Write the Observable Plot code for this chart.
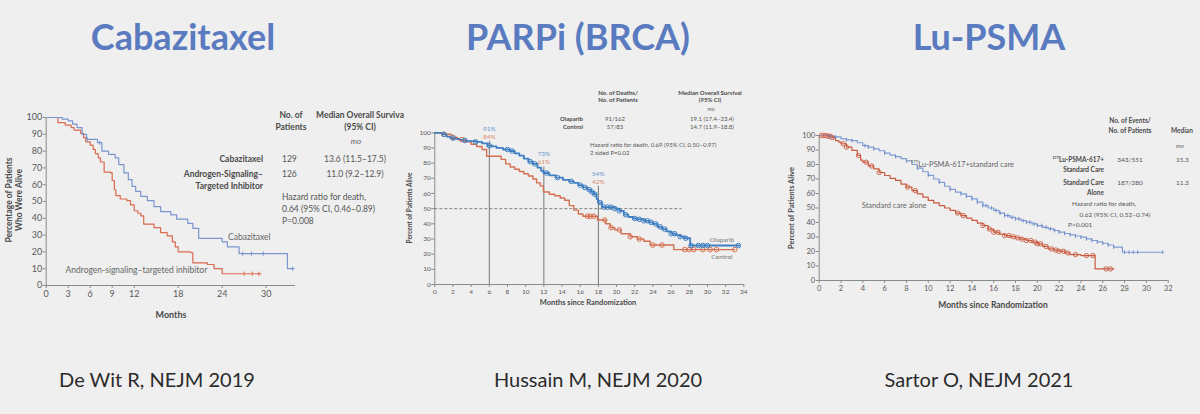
<!DOCTYPE html>
<html><head><meta charset="utf-8">
<script src="https://cdn.jsdelivr.net/npm/d3@7"></script>
<script src="https://cdn.jsdelivr.net/npm/@observablehq/plot@0.6"></script>
<style>
html,body{margin:0;padding:0;background:#efefef;}
#page{position:relative;width:1200px;height:414px;overflow:hidden;background:#efefef;font-family:Lato,sans-serif;}
.panel{position:absolute;}
</style></head><body><div id="page"></div>
<script>
// ================= DATA =================
// Panel 1 — De Wit R, NEJM 2019 (Cabazitaxel vs androgen-signaling-targeted inhibitor)
const p1XTicks = [0, 3, 6, 9, 12, 18, 24, 30];
const p1YTicks = [0, 10, 20, 30, 40, 50, 60, 70, 80, 90, 100];
const cabMonths = [0, 2.2, 3, 3.6, 4.2, 4.9, 5.5, 7, 7.6, 8.5, 9.4, 9.9, 10.6, 11.2, 11.7, 12.2, 12.9, 13.8, 14.7, 15.6, 17, 17.8, 19.3, 20, 20.8, 24, 24.7, 26.3, 32.9, 33.8];
const cabPct    = [100, 99, 98, 96, 94, 90, 87, 85, 80, 78, 76, 72, 67, 63, 59, 56, 53, 50.5, 47, 44, 42, 39.5, 37, 34, 28, 26, 23, 19, 10, 10];
const asiMonths = [0, 1.6, 2.6, 3.4, 3.8, 4.7, 5.1, 5.4, 6, 6.4, 6.7, 7.1, 7.4, 7.9, 8.8, 9, 9.3, 9.5, 10.1, 11, 11.5, 12, 12.5, 12.9, 13.3, 14.7, 15.6, 16.5, 17.2, 17.6, 18, 19.7, 20, 22, 22.9, 24, 29.3];
const asiPct    = [100, 97, 95.5, 94, 92.5, 90.5, 88, 85.5, 83.5, 81, 78.5, 76, 73.5, 67.5, 67, 62.5, 57, 53.5, 51.5, 50.5, 48, 44.5, 43, 41.5, 36.5, 34.5, 31.5, 29.5, 26, 23, 20, 19.5, 13.5, 12.5, 10, 7, 7];
const cabCensor = [5.6, 7.3, 26.8, 28.0, 29.6, 33.6];
const asiCensor = [27.0, 28.1, 29.0];

// Panel 2 — Hussain M, NEJM 2020 (Olaparib vs control)
const p2XTicks = [0, 2, 4, 6, 8, 10, 12, 14, 16, 18, 20, 22, 24, 26, 28, 30, 32, 34];
const p2YTicks = [0, 10, 20, 30, 40, 50, 60, 70, 80, 90, 100];
const olaMonths = [0, 0.8, 1.3, 1.7, 2.2, 2.8, 3.5, 4.5, 5.2, 5.8, 6.3, 6.8, 7.5, 8.3, 8.8, 9.3, 9.8, 10.3, 10.8, 11.3, 11.7, 11.95, 12.6, 13.3, 14.1, 14.8, 15.3, 15.8, 16.3, 16.8, 17.2, 17.5, 17.8, 17.95, 18.4, 19.8, 20.3, 20.8, 21.3, 21.8, 22.3, 23, 23.6, 24, 24.5, 25, 25.5, 26, 26.5, 27, 27.5, 28.1, 33.5];
const olaPct    = [100, 99, 97.5, 96.5, 96, 95, 94.5, 94, 93, 91.5, 91, 90, 89, 88, 86.5, 85, 83, 81, 79.5, 77, 75, 73.5, 72, 70.5, 69, 68, 67, 65.5, 64, 62.5, 61, 59.5, 56.5, 54, 51, 50, 48.5, 46, 44.5, 43.5, 43, 42, 41, 40, 38, 36.5, 35, 33.5, 32.5, 31.5, 30.5, 25.7, 25.7];
const ctlMonths = [0, 0.9, 1.8, 2.5, 3.3, 4.0, 4.6, 5.2, 5.7, 7.3, 7.8, 8.3, 8.8, 9.3, 9.8, 10.3, 10.8, 11.2, 11.6, 11.95, 12.6, 13.2, 13.8, 14.3, 14.8, 15.3, 15.8, 16.3, 17.9, 18.8, 19.3, 19.8, 20.5, 21.5, 22.3, 23, 23.7, 26.3, 33];
const ctlPct    = [100, 99, 97, 95.5, 94, 92.5, 91, 89, 84.5, 82.5, 79.5, 77.5, 76, 74.5, 73, 71.5, 69.5, 67, 65, 61, 59.5, 58.5, 57, 55.5, 52, 49, 46.5, 45, 42.5, 40, 37.5, 36, 33.5, 31.5, 30, 28.5, 26, 23, 23];
const olaCensor = [1, 2, 3.3, 4.5, 6, 8, 8.5, 10.5, 11, 12.3, 13.5, 15, 16, 16.5, 17, 17.3, 17.6, 18.2, 18.6, 19, 19.4, 19.8, 20.3, 21, 22, 22.5, 23, 23.4, 23.8, 24.3, 24.8, 25.3, 26, 26.4, 27, 27.6, 28.2, 29, 29.5, 30, 33.4];
const ctlCensor = [1, 2, 3, 16.8, 17.1, 17.5, 18.7, 19.4, 20.3, 21.5, 22.5, 24, 25, 27.5, 28, 28.5, 29.5, 30.3, 31, 33];
const milestoneMonths = [6, 12, 18];
const milestoneOla = [91, 73, 54];
const milestoneCtl = [84, 61, 42];

// Panel 3 — Sartor O, NEJM 2021 (177Lu-PSMA-617 + standard care vs standard care alone)
const p3XTicks = [0, 2, 4, 6, 8, 10, 12, 14, 16, 18, 20, 22, 24, 26, 28, 30, 32];
const p3YTicks = [0, 10, 20, 30, 40, 50, 60, 70, 80, 90, 100];
const luMonths = [0, 1, 1.5, 2, 2.5, 3, 3.5, 4, 4.5, 5, 5.5, 6, 6.5, 7, 7.5, 8, 8.5, 9, 9.5, 10, 10.5, 11, 11.5, 12, 12.5, 13, 13.5, 14, 14.5, 15, 15.5, 16, 16.5, 17, 17.5, 18, 18.5, 19, 19.5, 20, 20.5, 21, 21.5, 22, 22.5, 23, 23.5, 24, 24.5, 25, 25.5, 26, 26.5, 27, 27.8, 31.5];
const luPct    = [100, 99.5, 99, 97.7, 97, 96.5, 95, 93, 92, 90.8, 89.5, 87.8, 86.5, 85.5, 84, 82.5, 80, 77.5, 75, 72.5, 70, 67.7, 65, 62.8, 61, 59.8, 58, 56.3, 54, 51.7, 50, 48.3, 46.5, 44.8, 43.6, 42.5, 41.3, 40.2, 39, 37.9, 36.7, 35.6, 34.5, 33.3, 32.4, 31.5, 30.7, 29.9, 28.7, 27.6, 26.6, 25.7, 24.5, 23, 19.5, 19.5];
const socMonths = [0, 0.8, 1.2, 1.5, 1.8, 2, 2.5, 3, 3.5, 3.8, 4, 4.5, 5, 5.5, 6, 6.5, 7, 7.5, 8, 8.5, 9, 9.5, 10, 10.5, 11, 11.5, 12, 12.5, 13, 13.5, 14, 14.5, 15, 15.5, 16, 16.5, 17, 17.5, 18, 18.5, 19, 19.5, 20, 20.5, 21, 21.5, 22, 22.5, 23, 24, 25.3, 27];
const socPct    = [100, 99.5, 98.5, 96.5, 95.5, 94.3, 92, 89.7, 86.2, 83, 81.6, 79, 77, 74.5, 72.4, 70.5, 69, 66.5, 64.4, 62, 59.8, 57.5, 55.2, 53.5, 51.7, 50, 48.3, 46.5, 44.8, 43, 41.4, 39.6, 37.9, 35.5, 33.3, 32, 31, 30.2, 29.4, 28.5, 27.6, 26.5, 25.3, 23.5, 21.8, 21, 20.2, 19, 17.9, 17.2, 8, 8];
const luCensor = [1, 1.5, 2.5, 3, 4.2, 4.5, 5, 6, 7, 8, 9, 10, 11, 12, 13, 13.5, 14, 14.5, 15, 15.3, 15.8, 16.2, 16.6, 17, 17.3, 17.7, 18, 18.3, 18.7, 19, 19.3, 19.7, 20, 20.4, 20.8, 21.2, 21.6, 22, 22.5, 23, 23.5, 24, 24.5, 25, 25.5, 26, 26.5, 27, 28, 28.4, 28.8, 29.2, 31.5];
const socCensor = [0.2, 0.4, 0.6, 0.8, 1.0, 1.2, 2.2, 2.5, 3.6, 4.3, 4.8, 5.5, 8.1, 8.8, 12.7, 13.2, 15.0, 15.6, 16.0, 16.4, 17.0, 17.4, 17.8, 18.2, 18.6, 19.0, 19.4, 19.8, 20.0, 20.3, 20.8, 21.3, 21.7, 22.0, 22.4, 22.8, 23.5, 24.5, 25.1, 26.3, 26.7];

// ================= HELPERS =================
const pts = (t, s) => t.map((m, i) => ({month: m, pct: s[i]}));
function stepAt(t, s, m) { let v = s[0]; for (let i = 0; i < t.length; i++) { if (t[i] <= m) v = s[i]; else break; } return v; }
const censorPts = (c, t, s) => c.map(m => ({month: m, pct: stepAt(t, s, m)}));
const vTick = { draw(ctx, size) { const h = Math.sqrt(size) / 2; ctx.moveTo(0, -h); ctx.lineTo(0, h); } };
const FONT = "Lato, 'Open Sans', sans-serif";
const AX = "#8a8a8a", TX = "#5a5a5a";

function axes(xt, yt, fs) {
  return [
    Plot.ruleX([0], {stroke: AX, strokeWidth: 1}),
    Plot.ruleY([0], {stroke: AX, strokeWidth: 1}),
    Plot.axisX({ticks: xt, tickSize: 3, tickPadding: 2, stroke: AX, fill: TX, fontSize: fs, label: null, tickFormat: d => d}),
    Plot.axisY({ticks: yt, tickSize: 3, tickPadding: 1, stroke: AX, fill: TX, fontSize: fs, label: null, tickFormat: d => d})
  ];
}

const page = document.getElementById("page");
function place(el, left, top) { const d = document.createElement("div"); d.className = "panel"; d.style.left = left + "px"; d.style.top = top + "px"; d.appendChild(el); page.appendChild(d); }

// ================= PANEL 1 =================
const p1Blue = "#7b95cf", p1Red = "#d96b4e";
place(Plot.plot({
  width: 310, height: 230, marginLeft: 45.7, marginRight: 15, marginTop: 17, marginBottom: 45,
  x: {domain: [0, 34]}, y: {domain: [0, 100]},
  style: {background: "transparent", fontFamily: FONT},
  marks: [
    ...axes(p1XTicks, p1YTicks, 9),
    Plot.line(pts(asiMonths, asiPct), {x: "month", y: "pct", curve: "step-after", stroke: p1Red, strokeWidth: 1.2}),
    Plot.line(pts(cabMonths, cabPct), {x: "month", y: "pct", curve: "step-after", stroke: p1Blue, strokeWidth: 1.2}),
    Plot.dot(censorPts(cabCensor, cabMonths, cabPct), {x: "month", y: "pct", symbol: vTick, r: 2.4, stroke: p1Blue, fill: "none", strokeWidth: 1}),
    Plot.dot(censorPts(asiCensor, asiMonths, asiPct), {x: "month", y: "pct", symbol: vTick, r: 2.4, stroke: p1Red, fill: "none", strokeWidth: 1}),
    Plot.text(["Cabazitaxel"], {x: 27.7, y: 28.6, text: d => d, fill: "#666", fontSize: 8.5, fontFamily: FONT}),
    Plot.text(["Androgen-signaling\u2013targeted inhibitor"], {x: 12.3, y: 9.2, text: d => d, fill: "#666", fontSize: 8.5, fontFamily: FONT})
  ]
}), 0, 100);

// ================= PANEL 2 =================
const p2Blue = "#3f7fc2", p2Red = "#d5704f";
const miles = milestoneMonths.map((m, i) => ({month: m, ola: milestoneOla[i], ctl: milestoneCtl[i]}));
const lowerLabelY = {6: 97.4, 12: 80.5, 18: 67.8};   // annotation placement (percent units)
place(Plot.plot({
  width: 370, height: 250, marginLeft: 34.3, marginRight: 26.7, marginTop: 52.3, marginBottom: 46,
  x: {domain: [0, 34]}, y: {domain: [0, 100]},
  style: {background: "transparent", fontFamily: FONT},
  marks: [
    ...axes(p2XTicks, p2YTicks, 6.5),
    Plot.ruleY([50], {x1: 0, x2: 27.2, stroke: "#666", strokeWidth: 0.8, strokeDasharray: "3,2"}),
    Plot.ruleX(miles, {x: "month", y1: 0, y2: d => lowerLabelY[d.month] - 3, stroke: "#777", strokeWidth: 1}),
    Plot.line(pts(ctlMonths, ctlPct), {x: "month", y: "pct", curve: "step-after", stroke: p2Red, strokeWidth: 1.4}),
    Plot.line(pts(olaMonths, olaPct), {x: "month", y: "pct", curve: "step-after", stroke: p2Blue, strokeWidth: 1.8}),
    Plot.dot(censorPts(ctlCensor, ctlMonths, ctlPct), {x: "month", y: "pct", r: 2.3, stroke: p2Red, fill: "none", strokeWidth: 1}),
    Plot.dot(censorPts(olaCensor, olaMonths, olaPct), {x: "month", y: "pct", r: 2.3, stroke: p2Blue, fill: "none", strokeWidth: 1}),
    Plot.text(miles, {x: "month", y: d => lowerLabelY[d.month] + 5.3, text: d => d.ola + "%", fill: "#6a96cc", fontSize: 6.5, fontFamily: FONT}),
    Plot.text(miles, {x: "month", y: d => lowerLabelY[d.month], text: d => d.ctl + "%", fill: "#d88a6e", fontSize: 6.5, fontFamily: FONT}),
    Plot.text(["Olaparib"], {x: 31.6, y: 29.4, text: d => d, fill: "#777", fontSize: 6.5, fontFamily: FONT}),
    Plot.text(["Control"], {x: 31.6, y: 18.4, text: d => d, fill: "#777", fontSize: 6.5, fontFamily: FONT})
  ]
}), 400, 80);

// ================= PANEL 3 =================
const p3Blue = "#7f9bd3", p3Red = "#c95b41";
place(Plot.plot({
  width: 420, height: 230, marginLeft: 48.7, marginRight: 22.3, marginTop: 35, marginBottom: 50,
  x: {domain: [0, 32]}, y: {domain: [0, 100]},
  style: {background: "transparent", fontFamily: FONT},
  marks: [
    ...axes(p3XTicks, p3YTicks, 7.5),
    Plot.line(pts(socMonths, socPct), {x: "month", y: "pct", curve: "step-after", stroke: p3Red, strokeWidth: 1.2}),
    Plot.line(pts(luMonths, luPct), {x: "month", y: "pct", curve: "step-after", stroke: p3Blue, strokeWidth: 1.2}),
    Plot.dot(censorPts(socCensor, socMonths, socPct), {x: "month", y: "pct", r: 2.2, stroke: p3Red, fill: "none", strokeWidth: 0.9}),
    Plot.dot(censorPts(luCensor, luMonths, luPct), {x: "month", y: "pct", symbol: vTick, r: 2.2, stroke: "#6f8cc8", fill: "none", strokeWidth: 0.9}),
    Plot.text(["\u00B9\u2077\u2077Lu-PSMA-617+standard care"], {x: 8.4, y: 80.2, text: d => d, textAnchor: "start", fill: "#666", fontSize: 7.5, fontFamily: "Lato, 'DejaVu Sans', sans-serif"}),
    Plot.text(["Standard care alone"], {x: 3.9, y: 51.5, text: d => d, textAnchor: "start", fill: "#666", fontSize: 7.5, fontFamily: FONT})
  ]
}), 770, 100);

// ================= TEXT OVERLAY (titles, tables, axis titles, captions) =================
const ov = d3.create("svg").attr("width", 1200).attr("height", 414)
  .style("position", "absolute").style("left", "0px").style("top", "0px");
function txt(x, y, s, o = {}) {
  const e = ov.append("text").attr("x", x).attr("y", y)
    .attr("text-anchor", o.a || "start").attr("font-family", o.f || FONT)
    .attr("font-size", o.s || 8).attr("font-weight", o.w || "normal").attr("fill", o.c || "#444").text(s);
  if (o.i) e.attr("font-style", "italic");
  if (o.r) e.attr("transform", `rotate(-90 ${x} ${y})`);
  return e;
}
const TITLE = "#5a7bbf";
txt(183, 50, "Cabazitaxel", {s: 36, w: "bold", a: "middle", c: TITLE});
txt(578, 50, "PARPi (BRCA)", {s: 36, w: "bold", a: "middle", c: TITLE});
txt(989, 50, "Lu-PSMA", {s: 36, w: "bold", a: "middle", c: TITLE});

txt(157, 387, "De Wit R, NEJM 2019", {s: 20, a: "middle", c: "#2b2b2b"});
txt(598, 387, "Hussain M, NEJM 2020", {s: 20, a: "middle", c: "#2b2b2b"});
txt(979, 387, "Sartor O, NEJM 2021", {s: 20, a: "middle", c: "#2b2b2b"});

// Panel 1 axis titles + table
const T1 = "#4a4a4a";
txt(12, 200, "Percentage of Patients", {s: 8.5, w: "bold", a: "middle", r: true, c: T1});
txt(22, 200, "Who Were Alive", {s: 8.5, w: "bold", a: "middle", r: true, c: T1});
txt(171, 318, "Months", {s: 9, w: "bold", a: "middle", c: T1});
txt(291, 118, "No. of", {s: 8.5, w: "bold", a: "middle", c: T1});
txt(291, 130, "Patients", {s: 8.5, w: "bold", a: "middle", c: T1});
txt(360, 118, "Median Overall Surviva", {s: 8.5, w: "bold", a: "middle", c: T1});
txt(360, 130, "(95% CI)", {s: 8.5, w: "bold", a: "middle", c: T1});
txt(356, 144, "mo", {s: 8, i: true, a: "middle", c: "#666"});
txt(263, 162, "Cabazitaxel", {s: 8.5, w: "bold", a: "end", c: T1});
txt(263, 177, "Androgen-Signaling\u2013", {s: 8.5, w: "bold", a: "end", c: T1});
txt(263, 189, "Targeted Inhibitor", {s: 8.5, w: "bold", a: "end", c: T1});
txt(282, 162, "129", {s: 8.5, c: "#555"});
txt(282, 177, "126", {s: 8.5, c: "#555"});
txt(355, 162, "13.6 (11.5\u201317.5)", {s: 8.5, a: "middle", c: "#555"});
txt(355, 177, "11.0 (9.2\u201312.9)", {s: 8.5, a: "middle", c: "#555"});
txt(282, 200, "Hazard ratio for death,", {s: 8.5, c: "#555"});
txt(282, 212, "0.64 (95% CI, 0.46\u20130.89)", {s: 8.5, c: "#555"});
txt(282, 224, "P=0.008", {s: 8.5, c: "#555"});

// Panel 2 axis titles + table
txt(412, 208, "Percent of Patients Alive", {s: 6.5, w: "bold", a: "middle", r: true, c: T1});
txt(588, 305, "Months since Randomization", {s: 7.5, w: "bold", a: "middle", c: T1});
txt(618, 95, "No. of Deaths/", {s: 6, w: "bold", a: "middle", c: T1});
txt(618, 101.7, "No. of Patients", {s: 6, w: "bold", a: "middle", c: T1});
txt(710, 95, "Median Overall Survival", {s: 6, w: "bold", a: "middle", c: T1});
txt(710, 101.7, "(95% CI)", {s: 6, w: "bold", a: "middle", c: T1});
txt(711, 111, "mo", {s: 5.5, i: true, a: "middle", c: "#666"});
txt(583, 120.7, "Olaparib", {s: 6, w: "bold", a: "end", c: T1});
txt(583, 128.7, "Control", {s: 6, w: "bold", a: "end", c: T1});
txt(615, 120.7, "91/162", {s: 6, a: "middle", c: "#555"});
txt(615, 128.7, "57/83", {s: 6, a: "middle", c: "#555"});
txt(712, 120.7, "19.1 (17.4\u201323.4)", {s: 6, a: "middle", c: "#555"});
txt(712, 128.7, "14.7 (11.9\u201318.8)", {s: 6, a: "middle", c: "#555"});
txt(590, 147.3, "Hazard ratio for death, 0.69 (95% CI, 0.50\u20130.97)", {s: 6, c: "#555"});
txt(590, 154.5, "2 sided P=0.02", {s: 6, c: "#555"});

// Panel 3 axis titles + table
txt(794, 208, "Percent of Patients Alive", {s: 7.5, w: "bold", a: "middle", r: true, c: T1});
txt(993, 308, "Months since Randomization", {s: 8.5, w: "bold", a: "middle", c: T1});
txt(1130, 122.7, "No. of Events/", {s: 6.5, w: "bold", a: "middle", c: T1});
txt(1130, 132.7, "No. of Patients", {s: 6.5, w: "bold", a: "middle", c: T1});
txt(1171, 132.7, "Median", {s: 6.5, w: "bold", c: T1});
txt(1176, 148.3, "mo", {s: 6, i: true, c: "#666"});
txt(1104, 161.7, "\u00B9\u2077\u2077Lu-PSMA-617+", {s: 6.5, w: "bold", a: "end", c: T1, f: "Lato, 'DejaVu Sans', sans-serif"});
txt(1104, 171.7, "Standard Care", {s: 6.5, w: "bold", a: "end", c: T1});
txt(1104, 185, "Standard Care", {s: 6.5, w: "bold", a: "end", c: T1});
txt(1104, 195, "Alone", {s: 6.5, w: "bold", a: "end", c: T1});
txt(1130, 161.7, "343/551", {s: 6.5, a: "middle", c: "#555"});
txt(1130, 185, "187/280", {s: 6.5, a: "middle", c: "#555"});
txt(1176, 161.7, "15.3", {s: 6.5, c: "#555"});
txt(1176, 185, "11.3", {s: 6.5, c: "#555"});
txt(1104, 206, "Hazard ratio for death,", {s: 6.5, a: "middle", c: "#555"});
txt(1115, 216.7, "0.62 (95% CI, 0.52\u20130.74)", {s: 6.5, a: "middle", c: "#555"});
txt(1068, 226.7, "P<0.001", {s: 6.5, c: "#555"});

page.appendChild(ov.node());
</script></body></html>
